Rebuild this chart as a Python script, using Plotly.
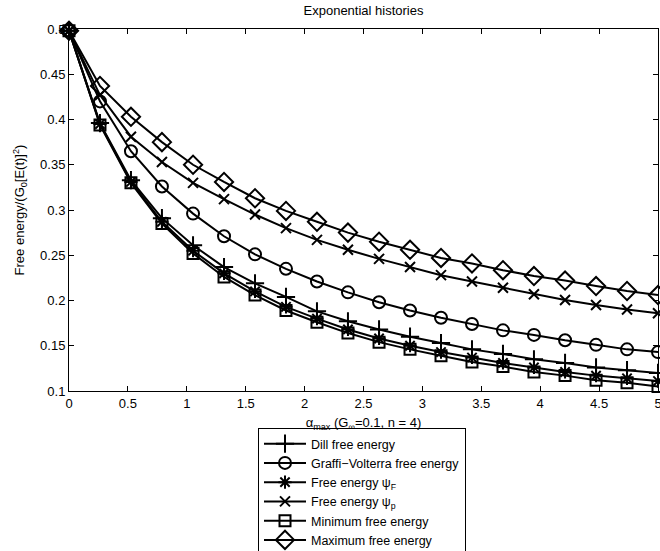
import plotly.graph_objects as go

x_vals = [0, 0.263, 0.526, 0.789, 1.053, 1.316, 1.579, 1.842, 2.105, 2.368,
          2.632, 2.895, 3.158, 3.421, 3.684, 3.947, 4.211, 4.474, 4.737, 5.0]

dill = [0.498, 0.396, 0.333, 0.291, 0.261, 0.237, 0.219, 0.204, 0.188, 0.177,
        0.168, 0.160, 0.153, 0.146, 0.141, 0.135, 0.131, 0.126, 0.123, 0.120]
graffi = [0.498, 0.420, 0.365, 0.326, 0.296, 0.271, 0.251, 0.235, 0.221, 0.209,
          0.198, 0.189, 0.181, 0.174, 0.167, 0.162, 0.156, 0.151, 0.146, 0.143]
psi_f = [0.498, 0.395, 0.331, 0.287, 0.255, 0.230, 0.210, 0.193, 0.180, 0.168,
         0.158, 0.150, 0.143, 0.137, 0.131, 0.126, 0.121, 0.117, 0.114, 0.111]
psi_p = [0.498, 0.427, 0.381, 0.353, 0.330, 0.312, 0.295, 0.280, 0.267, 0.256,
         0.246, 0.237, 0.228, 0.221, 0.214, 0.207, 0.2005, 0.195, 0.190, 0.186]
minimum = [0.498, 0.394, 0.330, 0.285, 0.252, 0.226, 0.206, 0.189, 0.176, 0.164,
           0.154, 0.146, 0.139, 0.132, 0.127, 0.121, 0.117, 0.112, 0.109, 0.105]
maximum = [0.498, 0.437, 0.403, 0.375, 0.350, 0.331, 0.313, 0.299, 0.287, 0.275,
           0.265, 0.256, 0.247, 0.241, 0.2335, 0.227, 0.222, 0.216, 0.2105, 0.206]

series_names = ["Dill free energy", "Graffi\u2212Volterra free energy",
                "Free energy \u03c8<sub>F</sub>", "Free energy \u03c8<sub>p</sub>",
                "Minimum free energy", "Maximum free energy"]
series_values = [dill, graffi, psi_f, psi_p, minimum, maximum]
symbols = ["cross-thin-open", "circle-open", "asterisk-open", "x-thin-open",
           "square-open", "diamond-open"]
sizes = [13, 12, 11, 10, 11, 14]

x_ticks = [0, 0.5, 1, 1.5, 2, 2.5, 3, 3.5, 4, 4.5, 5]
x_tick_labels = ["0", "0.5", "1", "1.5", "2", "2.5", "3", "3.5", "4", "4.5", "5"]
y_ticks = [0.1, 0.15, 0.2, 0.25, 0.3, 0.35, 0.4, 0.45, 0.5]
y_tick_labels = ["0.1", "0.15", "0.2", "0.25", "0.3", "0.35", "0.4", "0.45", "0.5"]

fig = go.Figure()
for name, vals, sym, sz in zip(series_names, series_values, symbols, sizes):
    fig.add_trace(go.Scatter(
        x=x_vals, y=vals, name=name, mode="lines+markers",
        line=dict(color="black", width=2),
        marker=dict(symbol=sym, size=sz, color="black",
                    line=dict(color="black", width=2)),
        cliponaxis=False,
    ))

font_family = "Liberation Sans, Arial, sans-serif"
W, H = 660, 551
L, R, T, B = 69, 2, 29, 160
plot_h = H - T - B

fig.update_layout(
    width=W, height=H,
    margin=dict(l=L, r=R, t=T, b=B, autoexpand=False),
    paper_bgcolor="white", plot_bgcolor="white",
    font=dict(family=font_family, size=13, color="black"),
    title=dict(text="Exponential histories", x=(L + W - R) / 2 / W, xanchor="center",
               y=1 - 10 / H, yanchor="middle", yref="container",
               font=dict(size=13)),
    showlegend=True,
    legend=dict(x=(258 - L) / (W - L - R), xanchor="left",
                y=1 - (428 - T) / plot_h, yanchor="top",
                bordercolor="black", borderwidth=1, bgcolor="rgba(255,255,255,0)",
                font=dict(size=12.5), itemwidth=42, tracegroupgap=0),
    xaxis=dict(range=[0, 5], tickvals=x_ticks, ticktext=x_tick_labels,
               ticks="inside", ticklen=5, tickcolor="black", showline=True,
               linecolor="black", linewidth=1, mirror="ticks", showgrid=False,
               zeroline=False, ticklabeloverflow="allow",
               tickfont=dict(size=13),
               title=dict(text="\u03b1<sub>max</sub> (G<sub>\u221e</sub>=0.1, n = 4)",
                          standoff=8, font=dict(size=13))),
    yaxis=dict(range=[0.1, 0.5], tickvals=y_ticks, ticktext=y_tick_labels,
               ticks="inside", ticklen=5, tickcolor="black", showline=True,
               linecolor="black", linewidth=1, mirror="ticks", showgrid=False,
               zeroline=False, ticklabeloverflow="allow",
               tickfont=dict(size=13),
               title=dict(text="Free energy/(G<sub>0</sub>[E(t)]<sup>2</sup>)",
                          standoff=12, font=dict(size=13))),
)

fig.write_html("out.html", config={"displayModeBar": False},
               post_script="document.body.style.margin='0';document.body.style.overflow='hidden';")
